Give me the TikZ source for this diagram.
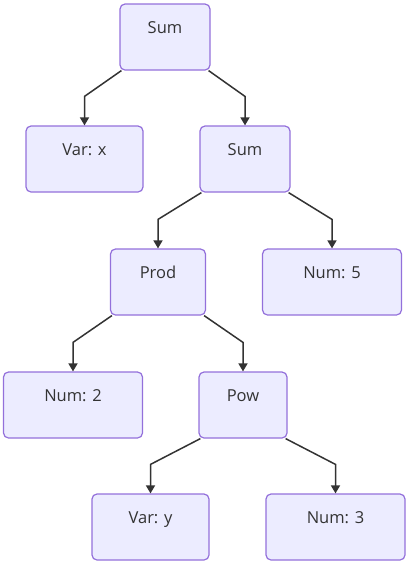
\documentclass[tikz,border=0pt]{standalone}
\usepackage{fontspec}
\setmainfont{Open Sans}
\usetikzlibrary{arrows.meta}
\definecolor{boxfill}{HTML}{ECECFF}
\definecolor{boxline}{HTML}{9370DB}
\definecolor{txt}{HTML}{333333}
\tikzset{
  treebox/.style={draw=boxline, fill=boxfill, line width=1.2pt, rounded corners=5pt,
    minimum height=66pt, inner xsep=0pt, inner ysep=8pt,
    text height=21pt, text depth=29pt, text=txt,
    font=\fontsize{16.5}{18}\selectfont},
  conn/.style={draw=txt, line width=1.5pt, -{Triangle[length=8pt,width=9pt]}}
}
\begin{document}
\begin{tikzpicture}[x=1pt,y=-1pt]
\useasboundingbox (0,0) rectangle (412,571);
\node[treebox, minimum width=90pt]  (s1) at (165,37)    {Sum};
\node[treebox, minimum width=117pt] (vx) at (84.5,159)  {Var: x};
\node[treebox, minimum width=90pt]  (s2) at (245,159)   {Sum};
\node[treebox, minimum width=95pt]  (pr) at (158,282)   {Prod};
\node[treebox, minimum width=139pt] (n5) at (332,282)   {Num: 5};
\node[treebox, minimum width=139pt] (n2) at (73,405)    {Num: 2};
\node[treebox, minimum width=88pt]  (pw) at (243,405)   {Pow};
\node[treebox, minimum width=117pt] (vy) at (150.5,527) {Var: y};
\node[treebox, minimum width=139pt] (n3) at (335.5,527) {Num: 3};
\draw[conn] ([xshift=2pt]s1.south west) -- ([yshift=29pt]vx.north) -- (vx.north);
\draw[conn] ([xshift=-2pt]s1.south east) -- ([yshift=29pt]s2.north) -- (s2.north);
\draw[conn] ([xshift=2pt]s2.south west) -- ([yshift=29pt]pr.north) -- (pr.north);
\draw[conn] ([xshift=-2pt]s2.south east) -- ([yshift=29pt]n5.north) -- (n5.north);
\draw[conn] ([xshift=2pt]pr.south west) -- ([yshift=29pt]n2.north) -- (n2.north);
\draw[conn] ([xshift=-2pt]pr.south east) -- ([yshift=29pt]pw.north) -- (pw.north);
\draw[conn] ([xshift=2pt]pw.south west) -- ([yshift=29pt]vy.north) -- (vy.north);
\draw[conn] ([xshift=-2pt]pw.south east) -- ([yshift=29pt]n3.north) -- (n3.north);
\end{tikzpicture}
\end{document}
